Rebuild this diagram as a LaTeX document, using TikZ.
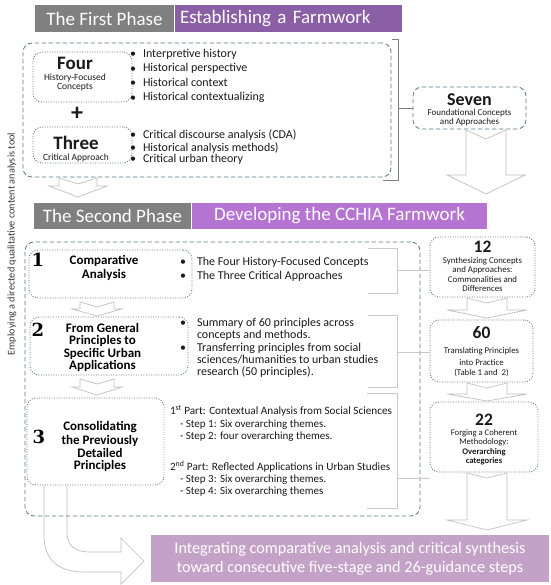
\documentclass[tikz,border=0pt]{standalone}
\usepackage{fontspec}
\setmainfont{Carlito}
\newfontfamily\numfont{DejaVu Serif}
\definecolor{hgray}{HTML}{808080}
\definecolor{purA}{HTML}{8B5FA6}
\definecolor{purB}{HTML}{B574D2}
\definecolor{purC}{HTML}{C4A2C8}
\definecolor{boxc}{HTML}{5B7C8C}
\definecolor{brkA}{HTML}{7F7F7F}
\definecolor{brkB}{HTML}{C8C8C8}
\definecolor{arrc}{HTML}{BFBFBF}
\definecolor{txt}{HTML}{1A1A1A}
\definecolor{vtxt}{HTML}{3A3A3A}
\newcommand\blockarr[7]{% cx, ytop, notch, ybase, ytip, shaft half, head half
  \draw[arr] (#1-#6,#2) -- (#1,#2+#3) -- (#1+#6,#2) -- (#1+#6,#4) -- (#1+#7,#4) -- (#1,#5) -- (#1-#7,#4) -- (#1-#6,#4) -- cycle;}
\begin{document}
\begin{tikzpicture}[x=1pt,y=-1pt,
  every node/.style={inner sep=0pt, outer sep=0pt},
  hdr/.style={text=white, font=\fontsize{19}{19}\selectfont, minimum height=27pt},
  dashbox/.style={draw=boxc, line width=0.8pt, dash pattern=on 4.5pt off 2.5pt, rounded corners=9pt},
  dotbox/.style={draw=boxc, line width=0.9pt, dash pattern=on 0.9pt off 1.6pt, rounded corners=9pt, fill=white},
  arr/.style={draw=arrc, line width=0.7pt, fill=white, line join=miter},
  brkA/.style={draw=brkA, line width=0.9pt},
  brkB/.style={draw=brkB, line width=0.9pt},
  body/.style={anchor=west, text=txt, font=\fontsize{12}{12}\selectfont, execute at begin node=\strut},
  sbody/.style={anchor=west, text=txt, font=\fontsize{11.2}{11.2}\selectfont, execute at begin node=\strut},
  bul/.style={anchor=center, text=txt, font=\fontsize{12}{12}\selectfont},
  ctr/.style={anchor=center, text=txt},
  num/.style={anchor=center, text=black, font=\numfont\bfseries\fontsize{18}{18}\selectfont},
  ttl/.style={anchor=center, text=black, font=\bfseries\fontsize{13}{13}\selectfont, execute at begin node=\strut},
]
\useasboundingbox (0,0) rectangle (550,585);
\fill[white] (0,0) rectangle (550,585);

% ---------- vertical label
\node[rotate=90, text=vtxt, font=\fontsize{10.3}{10.3}\selectfont] (vt) at (12,244) {Employing a directed qualitative content analysis tool};

% ---------- first phase header
\node[hdr, fill=hgray, minimum width=139pt] (h1a) at (104.5,18.5) {The First Phase};
\node[hdr, fill=purA, minimum width=227pt, text width=217pt, align=left, inner xsep=5pt] (h1b) at (288.5,18.5) {Establishing a Farmwork};

% ---------- first phase box
\node[dashbox, minimum width=368pt, minimum height=134pt] (p1) at (207,110) {};
\node[dotbox, minimum width=99pt, minimum height=50pt] (four) at (82.5,77) {};
\node[ctr, font=\bfseries\fontsize{19}{19}\selectfont] (fourT) at (75,63) {Four};
\node[ctr, font=\fontsize{9.5}{9.5}\selectfont] (fourS1) at (75,77.5) {History-Focused};
\node[ctr, font=\fontsize{9.5}{9.5}\selectfont] (fourS2) at (75,87) {Concepts};
\node[ctr, font=\bfseries\fontsize{24}{24}\selectfont] (plus) at (77,114) {+};
\node[dotbox, minimum width=99pt, minimum height=36pt] (three) at (82.5,145) {};
\node[ctr, font=\bfseries\fontsize{19}{19}\selectfont] (threeT) at (76,143) {Three};
\node[ctr, font=\fontsize{9.5}{9.5}\selectfont] (threeS) at (76,158) {Critical Approach};

\foreach \y/\t [count=\i] in {55/Interpretive history, 69.5/Historical perspective, 84/Historical context, 98.5/Historical contextualizing}{
  \node[bul] (fb\i) at (133,\y) {•};
  \node[body] (ft\i) at (143,\y) {\t};
}
\foreach \y/\t [count=\i] in {136/Critical discourse analysis (CDA), 148.5/Historical analysis methods), 160/Critical urban theory}{
  \node[bul] (tb\i) at (133,\y) {•};
  \node[body] (tt\i) at (143,\y) {\t};
}

% bracket first phase
\coordinate (b1a) at (392,39);
\coordinate (b1b) at (398,39);
\coordinate (b1c) at (398,180);
\coordinate (b1d) at (383,180);
\coordinate (b1m) at (398,108);
\draw[brkA] (b1a) -- (b1b) -- (b1c) -- (b1d);

\node[dashbox, minimum width=113pt, minimum height=42pt] (seven) at (469.5,108) {};
\draw[brkA] (b1m) -- (seven.west);
\node[ctr, font=\bfseries\fontsize{18}{18}\selectfont] (sevenT) at (469.5,100) {Seven};
\node[ctr, font=\fontsize{9}{9}\selectfont] (sevenS1) at (469.5,113.5) {Foundational Concepts};
\node[ctr, font=\fontsize{9}{9}\selectfont] (sevenS2) at (469.5,122.5) {and Approaches};

% arrows
\blockarr{486}{130}{9}{175}{194}{20}{39}
\blockarr{78}{178}{6}{186}{197}{19}{29}

% ---------- second phase header
\node[hdr, fill=hgray, minimum width=157pt, minimum height=26pt] (h2a) at (112.5,216) {The Second Phase};
\node[hdr, fill=purB, minimum width=295pt, minimum height=26pt] (h2b) at (339.5,216) {Developing the CCHIA Farmwork};

% curved arrow to result
\draw[arr] (44,484) -- (44,535) .. controls (44,560) and (58,572) .. (85,572) -- (121,572) -- (121,584) -- (144,561) -- (121,538) -- (121,552) -- (90,552) .. controls (75,552) and (67,546) .. (67,532) -- (67,484) -- cycle;

% second phase box
\node[dashbox, minimum width=395pt, minimum height=274pt] (p2) at (222.5,379) {};

% step 1
\node[dotbox, minimum width=163pt, minimum height=48pt] (s1) at (110.5,274) {};
\node[num] (n1) at (38,260) {1};
\node[ttl] (s1t1) at (104,262) {Comparative};
\node[ttl] (s1t2) at (104,276) {Analysis};
\node[bul] (s1b1) at (183,263) {•};
\node[body] (s1x1) at (197,263) {The Four History-Focused Concepts};
\node[bul] (s1b2) at (183,277) {•};
\node[body] (s1x2) at (197,277) {The Three Critical Approaches};

\blockarr{97}{302}{5}{309}{316}{17}{25}

% step 2
\node[dotbox, minimum width=158pt, minimum height=58pt] (s2) at (109,346) {};
\node[num] (n2) at (38,330) {2};
\node[ttl] (s2t1) at (102.5,330) {From General};
\node[ttl] (s2t2) at (102.5,342.3) {Principles to};
\node[ttl] (s2t3) at (102.5,354.6) {Specific Urban};
\node[ttl] (s2t4) at (102.5,367) {Applications};
\node[bul] (s2b1) at (183,324) {•};
\node[bul] (s2b2) at (183,349) {•};
\foreach \y/\t [count=\i] in {324/{Summary of 60 principles across}, 336.5/{concepts and methods.}, 349/{Transferring principles from social}, 361/{sciences/humanities to urban studies}, 372.5/{research (50 principles).}}{
  \node[body] (s2x\i) at (197,\y) {\t};
}

\blockarr{97}{379}{5}{387}{395}{17}{25}

% step 3
\node[dotbox, minimum width=137pt, minimum height=87pt] (s3) at (95.5,441.5) {};
\node[num] (n3) at (39,437) {3};
\node[ttl] (s3t1) at (100,428) {Consolidating};
\node[ttl] (s3t2) at (100,441.5) {the Previously};
\node[ttl] (s3t3) at (100,454.5) {Detailed};
\node[ttl] (s3t4) at (100,467) {Principles};
\node[sbody] (s3x1) at (170,412) {1\textsuperscript{st} Part: Contextual Analysis from Social Sciences};
\node[sbody, font=\fontsize{11}{11}\selectfont] (s3x2) at (180,425) {- Step 1: Six overarching themes.};
\node[sbody, font=\fontsize{11}{11}\selectfont] (s3x3) at (180,437) {- Step 2: four overarching themes.};
\node[sbody] (s3x4) at (170,467) {2\textsuperscript{nd} Part: Reflected Applications in Urban Studies};
\node[sbody, font=\fontsize{11}{11}\selectfont] (s3x5) at (180,480) {- Step 3: Six overarching themes.};
\node[sbody, font=\fontsize{11}{11}\selectfont] (s3x6) at (180,492) {- Step 4: Six overarching themes};

% right column boxes
\node[dotbox, minimum width=105pt, minimum height=60pt] (r12) at (482.5,267) {};
\node[ctr, font=\bfseries\fontsize{17.5}{17.5}\selectfont] (r12T) at (482.5,247) {12};
\foreach \y/\t [count=\i] in {261/Synthesizing Concepts, 270/and Approaches:, 279/Commonalities and, 288/Differences}{
  \node[ctr, font=\fontsize{8.8}{8.8}\selectfont] (r12s\i) at (482.5,\y) {\t};
}
\node[dotbox, minimum width=103pt, minimum height=62pt] (r60) at (481.5,351) {};
\node[ctr, font=\bfseries\fontsize{17.5}{17.5}\selectfont] (r60T) at (481.5,333) {60};
\foreach \y/\t [count=\i] in {351/Translating Principles, 362/into Practice, 373/(Table 1 and\ \ 2)}{
  \node[ctr, font=\fontsize{8.8}{8.8}\selectfont] (r60s\i) at (481.5,\y) {\t};
}
\node[dotbox, minimum width=108pt, minimum height=70pt] (r22) at (484,437) {};
\node[ctr, font=\bfseries\fontsize{17.5}{17.5}\selectfont] (r22T) at (484,420) {22};
\node[ctr, font=\fontsize{8.6}{8.6}\selectfont] (r22s1) at (484,433) {Forging a Coherent};
\node[ctr, font=\fontsize{8.6}{8.6}\selectfont] (r22s2) at (484,442) {Methodology:};
\node[ctr, font=\bfseries\fontsize{8.6}{8.6}\selectfont] (r22s3) at (484,452) {Overarching};
\node[ctr, font=\bfseries\fontsize{8.6}{8.6}\selectfont] (r22s4) at (484,461) {categories};

\blockarr{487}{298}{5}{310}{318}{20}{40}
\blockarr{487}{383}{5}{394}{401}{20}{40}
\blockarr{487}{473}{5}{520}{530}{20}{40}

% brackets second phase
\coordinate (c1a) at (368,248); \coordinate (c1b) at (397,248); \coordinate (c1c) at (397,293); \coordinate (c1d) at (368,293); \coordinate (c1m) at (397,270);
\coordinate (c2a) at (368,315); \coordinate (c2b) at (397,315); \coordinate (c2c) at (397,387); \coordinate (c2d) at (368,387); \coordinate (c2m) at (397,352);
\coordinate (c3a) at (367,393); \coordinate (c3b) at (397,393); \coordinate (c3c) at (397,508); \coordinate (c3d) at (367,508); \coordinate (c3m) at (397,478);
\draw[brkB] (c1a) -- (c1b) -- (c1c) -- (c1d);
\draw[brkB] (c2a) -- (c2b) -- (c2c) -- (c2d);
\draw[brkB] (c3a) -- (c3b) -- (c3c) -- (c3d);
\draw[brkB] (c1m) -- (r12.west |- c1m);
\draw[brkB] (c2m) -- (r60.west |- c2m);
\draw[brkB] (c3m) -- (r22.west |- c3m);

% result box
\node[fill=purC, minimum width=398pt, minimum height=47pt, text=white, align=center, font=\fontsize{16.2}{19}\selectfont] (res) at (350,558.5) {Integrating comparative analysis and critical synthesis\\toward consecutive five-stage and 26-guidance steps};
\end{tikzpicture}
\end{document}
